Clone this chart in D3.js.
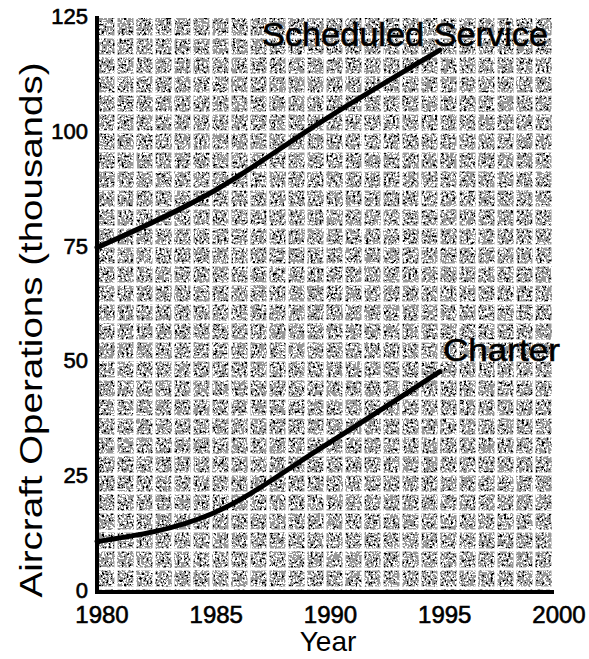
<!DOCTYPE html>
<html><head><meta charset="utf-8">
<script src="https://cdn.jsdelivr.net/npm/d3@7"></script>
<style>body{margin:0;background:#fff}svg{display:block}text{font-family:"Liberation Sans",Arial,sans-serif;fill:#000}.b{stroke:#000;stroke-width:0.6px}</style>
</head><body>
<script>
const years = [1980, 1985, 1990, 1995];
const scheduled = [75, 87, 103, 118];
const charter = [11, 17, 32, 48];
const xTicks = [1980, 1985, 1990, 1995, 2000];
const yTicks = [0, 25, 50, 75, 100, 125];
const seriesLabels = ["Scheduled Service", "Charter"];

const W = 589, H = 659;
const svg = d3.select("body").append("svg").attr("width", W).attr("height", H);
const x = d3.scaleLinear().domain([1980, 2000]).range([97, 554]);
const y = d3.scaleLinear().domain([0, 125]).range([592, 18]);

const defs = svg.append("defs");
const f = defs.append("filter").attr("id","noise").attr("x",0).attr("y",0).attr("width","100%").attr("height","100%")
  .attr("color-interpolation-filters","sRGB");
f.append("feTurbulence").attr("type","fractalNoise").attr("baseFrequency","0.45").attr("numOctaves",2).attr("seed",5);
f.append("feColorMatrix").attr("type","matrix").attr("values","0.33 0.33 0.33 0 0  0.33 0.33 0.33 0 0  0.33 0.33 0.33 0 0  0 0 0 0 1");
const c1 = f.append("feComponentTransfer");
["feFuncR","feFuncG","feFuncB"].forEach(n=>c1.append(n).attr("type","linear").attr("slope",3.2).attr("intercept",-1.1));
const c2 = f.append("feComponentTransfer");
["feFuncR","feFuncG","feFuncB"].forEach(n=>c2.append(n).attr("type","discrete").attr("tableValues","0 0.6 0.6 1 1"));

const px0 = x(1980), px1 = x(2000), py0 = y(125), py1 = y(0);
svg.append("rect").attr("x",px0).attr("y",py0).attr("width",px1-px0).attr("height",py1-py0).attr("filter","url(#noise)");

// white grid texture lines
const pitch = 19;
const g = svg.append("g").attr("stroke","#fff").attr("stroke-width",3);
d3.range(px0+pitch, px1, pitch).forEach(v=>g.append("line").attr("x1",v).attr("x2",v).attr("y1",py0).attr("y2",py1));
d3.range(py0+pitch, py1, pitch).forEach(v=>g.append("line").attr("y1",v).attr("y2",v).attr("x1",px0).attr("x2",px1));

// axes
svg.append("line").attr("x1",px0).attr("x2",px0).attr("y1",py0-2).attr("y2",py1+2).attr("stroke","#000").attr("stroke-width",4);
svg.append("line").attr("x1",px0-2).attr("x2",px1).attr("y1",py1).attr("y2",py1).attr("stroke","#000").attr("stroke-width",4);

svg.append("g").selectAll("text").data(yTicks).join("text").attr("class","b")
  .attr("x", 88).attr("y", d=>y(d)+6).attr("text-anchor","end").attr("font-size",22).text(d=>d);
svg.append("g").selectAll("text").data(xTicks).join("text").attr("class","b")
  .attr("x", d=>x(d)+5).attr("y", 623).attr("text-anchor","middle").attr("font-size",24).text(d=>d);

svg.append("text").attr("x",328).attr("y",651).attr("text-anchor","middle").attr("font-size",28).text("Year");
svg.append("text").attr("transform","translate(42,330) rotate(-90)").attr("text-anchor","middle").attr("font-size",32)
  .attr("textLength",535).attr("lengthAdjust","spacingAndGlyphs").text("Aircraft Operations (thousands)");

const line = d3.line().x((d,i)=>x(years[i])).y(d=>y(d)).curve(d3.curveMonotoneX);
[scheduled, charter].forEach(s=>{
  svg.append("path").attr("d", line(s)).attr("fill","none").attr("stroke","#000").attr("stroke-width",5).attr("stroke-linecap","round");
});
svg.append("text").attr("class","b").attr("x",262).attr("y",46).attr("font-size",33).attr("textLength",286).attr("lengthAdjust","spacingAndGlyphs").text(seriesLabels[0]);
svg.append("text").attr("class","b").attr("x",443).attr("y",361).attr("font-size",32).attr("textLength",117).attr("lengthAdjust","spacingAndGlyphs").text(seriesLabels[1]);
</script>
</body></html>
